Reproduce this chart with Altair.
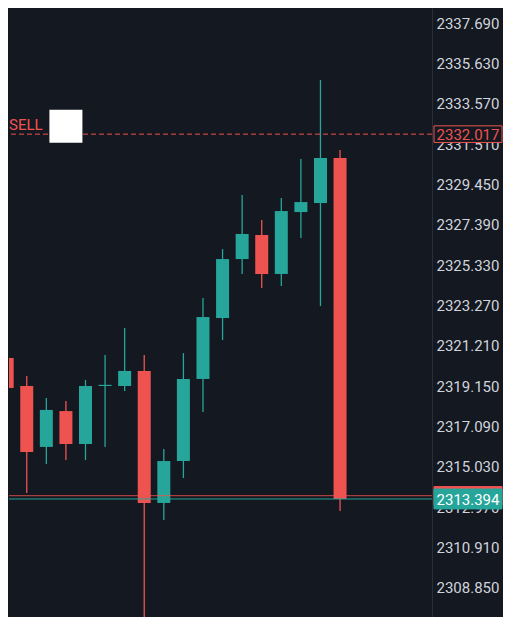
import altair as alt
import pandas as pd

# ---- data ----
candle_idx = list(range(18))
opens  = [2320.59, 2319.16, 2316.05, 2317.88, 2316.20, 2319.16, 2319.16, 2319.93, 2313.19,
          2315.33, 2319.52, 2322.63, 2325.64, 2326.87, 2324.88, 2328.04, 2328.50, 2330.80]
closes = [2319.06, 2315.79, 2317.94, 2316.20, 2319.16, 2319.22, 2319.93, 2313.19, 2315.33,
          2319.52, 2322.68, 2325.64, 2326.92, 2324.88, 2328.09, 2328.55, 2330.80, 2313.39]
highs  = [2320.90, 2319.67, 2318.55, 2318.39, 2319.47, 2320.74, 2322.12, 2320.74, 2315.94,
          2320.84, 2323.65, 2326.15, 2328.91, 2327.63, 2328.76, 2330.75, 2334.78, 2331.21]
lows   = [2318.80, 2313.70, 2315.18, 2315.38, 2315.38, 2316.05, 2318.90, 2306.00, 2312.32,
          2314.46, 2317.83, 2321.51, 2324.88, 2324.16, 2324.26, 2326.72, 2323.24, 2312.78]

axis_ticks = [2337.690, 2335.630, 2333.570, 2331.510, 2329.450, 2327.390, 2325.330, 2323.270,
              2321.210, 2319.150, 2317.090, 2315.030, 2312.970, 2310.910, 2308.850]

sell_price = 2332.017
sell_text = "SELL"
bid_price = 2313.394
ask_price = 2313.56

BG = "#131821"
GREEN = "#26a69a"
RED = "#ef5350"
TEXT = "#d1d4dc"
FONT = "Roboto"

W, H = 423, 609
PX_PER_UNIT = 19.59
y_domain = [2307.369, 2338.456]
x_domain = [0.349, 21.44]

df = pd.DataFrame({"i": candle_idx, "open": opens, "close": closes, "high": highs, "low": lows})
df["dir"] = ["up" if c >= o else "down" for o, c in zip(opens, closes)]

yscale = alt.Scale(domain=y_domain, nice=False, zero=False)
xscale = alt.Scale(domain=x_domain, nice=False, zero=False)
yaxis = alt.Axis(orient="right", values=axis_ticks, format=".3f", title=None, ticks=False,
                 labelPadding=4, labelFont=FONT, labelFontSize=15, labelColor=TEXT,
                 domainColor="#2a2e39", domainWidth=1, grid=False, labelBound=False,
                 labelOverlap=False, labelFlush=False)
color = alt.Color("dir:N", scale=alt.Scale(domain=["up", "down"], range=[GREEN, RED]), legend=None)


def Y(field):
    return alt.Y(field, scale=yscale, axis=yaxis)


base = alt.Chart(df).encode(x=alt.X("i:Q", scale=xscale, axis=None), color=color)
wicks = base.mark_rule(strokeWidth=1.3, clip=True).encode(y=Y("low:Q"), y2="high:Q")
bodies = base.mark_bar(size=13, clip=True).encode(y=Y("open:Q"), y2="close:Q")

sell_line = alt.Chart(pd.DataFrame({"p": [sell_price]})).mark_rule(
    color=RED, strokeDash=[5, 3], strokeWidth=1).encode(y=Y("p:Q"))
ask_line = alt.Chart(pd.DataFrame({"p": [ask_price]})).mark_rule(
    color=RED, strokeWidth=1, opacity=0.85).encode(y=Y("p:Q"))
bid_line = alt.Chart(pd.DataFrame({"p": [bid_price]})).mark_rule(
    color=GREEN, strokeWidth=1).encode(y=Y("p:Q"))

sell_lbl = alt.Chart(pd.DataFrame({"p": [sell_price], "t": [sell_text]})).mark_text(
    color=RED, font=FONT, fontSize=15, align="left", baseline="alphabetic", dy=-4
).encode(x=alt.value(0), y=Y("p:Q"), text="t:N")

sell_box = alt.Chart(pd.DataFrame({"p": [sell_price], "i": [3.0]})).mark_square(
    color="#ffffff", opacity=1, filled=True, size=1089, yOffset=-8
).encode(x=alt.X("i:Q", scale=xscale, axis=None), y=Y("p:Q"))

# price tags on the axis
half_box = 8.3 / PX_PER_UNIT
tag_df = pd.DataFrame({
    "p": [sell_price, ask_price, bid_price],
    "label": ["%.3f" % sell_price, "", "%.3f" % bid_price],
    "fill": [BG, RED, GREEN],
    "stroke": [RED, RED, GREEN],
    "tcolor": [RED, RED, "#ffffff"],
    "half": [half_box, half_box * 1.1, half_box * 1.2],
    "order": [0, 1, 2],
})
tags = alt.Chart(tag_df).transform_calculate(
    top="datum.p + datum.half", bot="datum.p - datum.half"
).mark_rect(strokeWidth=1).encode(
    x=alt.value(425), x2=alt.value(493),
    y=Y("top:Q"), y2="bot:Q",
    fill=alt.Fill("fill:N", scale=None), stroke=alt.Stroke("stroke:N", scale=None),
    order="order:Q",
)
tag_text = alt.Chart(tag_df).mark_text(font=FONT, fontSize=15, align="center", baseline="middle", dy=1).encode(
    x=alt.value(459), y=Y("p:Q"), text="label:N",
    color=alt.Color("tcolor:N", scale=None),
)

chart = alt.layer(wicks, bodies, sell_line, ask_line, bid_line, sell_lbl, sell_box, tags, tag_text).properties(
    width=W, height=H, background=BG, padding=0
).configure_view(stroke=None)

chart.save("out.html", embed_options={"renderer": "svg", "actions": False})
